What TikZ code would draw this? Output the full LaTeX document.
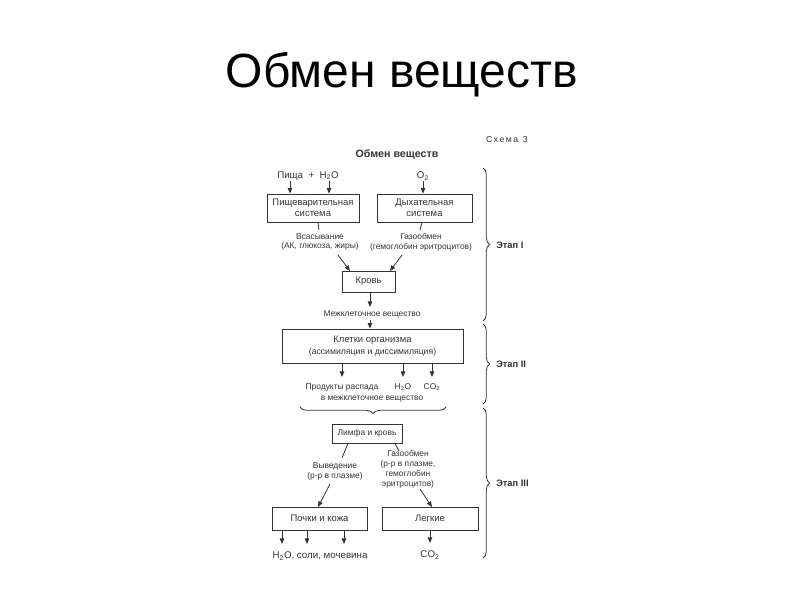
\documentclass[tikz,border=0pt]{standalone}
\usepackage{fontspec}
\setmainfont{Liberation Sans}
\usetikzlibrary{arrows.meta,decorations.pathreplacing}
\definecolor{ink}{HTML}{333333}
\tikzset{
  box/.style={draw=ink,line width=0.6pt,rectangle,inner sep=0pt,align=center,text=ink,font=\fontsize{7.1}{8.4}\selectfont},
  lab/.style={inner sep=0pt,align=center,text=ink,font=\fontsize{6.3}{7.4}\selectfont},
  big/.style={inner sep=0pt,align=center,text=ink,font=\fontsize{7.3}{8.6}\selectfont},
  arr/.style={draw=ink,line width=0.6pt,-{Triangle[length=4.2pt,width=3.4pt]}},
  ln/.style={draw=ink,line width=0.6pt},
  brc/.style={draw=ink,line width=0.6pt,decorate,decoration={brace,amplitude=5pt}},
  stage/.style={inner sep=0pt,anchor=west,text=ink,font=\fontsize{7}{8}\selectfont\bfseries}
}
\begin{document}
\begin{tikzpicture}[x=0.75pt,y=-0.75pt]
\useasboundingbox (0,0) rectangle (800,600);
% title
\node[anchor=base,inner sep=0pt,font=\fontsize{36}{40}\selectfont] (title) at (402,87) {Обмен веществ};
% scheme header
\node[lab,font=\fontsize{6.5}{7.5}\selectfont,anchor=east] (schema) at (528,140) {С\,х\,е\,м\,а\ \ 3};
\node[big,font=\fontsize{8}{9}\selectfont\bfseries] (head) at (397,155) {Обмен веществ};
% inputs
\node[big] (pisha) at (308,176) {Пища\ \ +\ \ H\textsubscript{2}O};
\node[big] (o2) at (423,176) {O\textsubscript{2}};
\coordinate (p1) at (290,181);
\coordinate (p2) at (329,181);
\coordinate (o2a) at (423,181);
% first row boxes
\node[box,minimum width=92*0.75pt,minimum height=28*0.75pt] (dig) at (313,208) {Пищеварительная\\система};
\node[box,minimum width=95*0.75pt,minimum height=28*0.75pt] (resp) at (424.5,208) {Дыхательная\\система};
\draw[arr] (p1) -- (p1 |- dig.north);
\draw[arr] (p2) -- (p2 |- dig.north);
\draw[arr] (o2a) -- (o2a |- resp.north);
% labels
\node[lab] (vsas) at (320,242) {Всасывание\\(АК, глюкоза, жиры)};
\node[lab] (gaz1) at (421,242) {Газообмен\\(гемоглобин эритроцитов)};
\draw[ln] (dig.south -| 318,0) -- (319,230);
\draw[ln] (resp.south -| 422,0) -- (420,230);
% blood
\node[box,minimum width=53*0.75pt,minimum height=21*0.75pt] (krov) at (368.5,281.5) {Кровь};
\coordinate (a1) at (338,255);
\coordinate (a2) at (402,255);
\draw[arr] (a1) -- (350,271);
\draw[arr] (a2) -- (390,271);
\node[lab] (mezh) at (372,314) {Межклеточное вещество};
\draw[arr] (krov.south -| 370,0) -- (370,307);
% cells
\node[box,minimum width=181*0.75pt,minimum height=34*0.75pt] (cells) at (372.5,346) {Клетки организма\\[1pt]{\fontsize{6.5}{7.5}\selectfont(ассимиляция и диссимиляция)}};
\coordinate (m1) at (370,320);
\draw[arr] (m1) -- (m1 |- cells.north);
\node[lab] (prod) at (342,387) {Продукты распада};
\node[lab] (h2o1) at (403,387) {H\textsubscript{2}O};
\node[lab] (co21) at (432,387) {CO\textsubscript{2}};
\draw[arr] (cells.south -| prod) -- (342,377);
\draw[arr] (cells.south -| h2o1) -- (403,377);
\draw[arr] (cells.south -| co21) -- (432,377);
% horizontal brace
\node[lab] (vmezh) at (372,399.5) {в межклеточное вещество};
\coordinate (hb1) at (300,407);
\coordinate (hb2) at (446,407);
\draw[brc,decoration={mirror}] (hb1) -- (hb2);
% lymph
\node[box,minimum width=70*0.75pt,minimum height=19*0.75pt,font=\fontsize{6.3}{7.4}\selectfont] (limfa) at (367,433.5) {Лимфа и кровь};
\node[lab] (vyv) at (335,471.5) {Выведение\\(р-р в плазме)};
\node[lab] (gaz2) at (408,469.5) {Газообмен\\(р-р в плазме,\\гемоглобин\\эритроцитов)};
\draw[ln] (limfa.south -| 348,0) -- (342,458);
\draw[ln] (limfa.south -| 395,0) -- (399,451);
% organs
\node[box,minimum width=95*0.75pt,minimum height=23*0.75pt] (pochki) at (319.5,518.5) {Почки и кожа};
\node[box,minimum width=96*0.75pt,minimum height=23*0.75pt] (legk) at (430,518.5) {Легкие};
\draw[arr] (330,484) -- (318,507);
\draw[arr] (420,489) -- (432,507);
\node[big] (out1) at (320,556) {H\textsubscript{2}O, соли, мочевина};
\node[big] (out2) at (430,555) {CO\textsubscript{2}};
\draw[arr] (pochki.south -| 282,0) -- (282,544);
\draw[arr] (pochki.south -| 307,0) -- (307,544);
\draw[arr] (pochki.south -| 344,0) -- (344,544);
\draw[arr] (legk.south) -- (430,543);
% vertical braces
\coordinate (b1t) at (483,168);
\coordinate (b1b) at (483,321);
\coordinate (b2t) at (483,324);
\coordinate (b2b) at (483,404);
\coordinate (b3t) at (483,408);
\coordinate (b3b) at (483,558);
\draw[brc] (b1t) -- (b1b);
\draw[brc] (b2t) -- (b2b);
\draw[brc] (b3t) -- (b3b);
\node[stage] (s1) at (496,245) {Этап I};
\node[stage] (s2) at (496,364) {Этап II};
\node[stage] (s3) at (496,483) {Этап III};
\end{tikzpicture}
\end{document}
